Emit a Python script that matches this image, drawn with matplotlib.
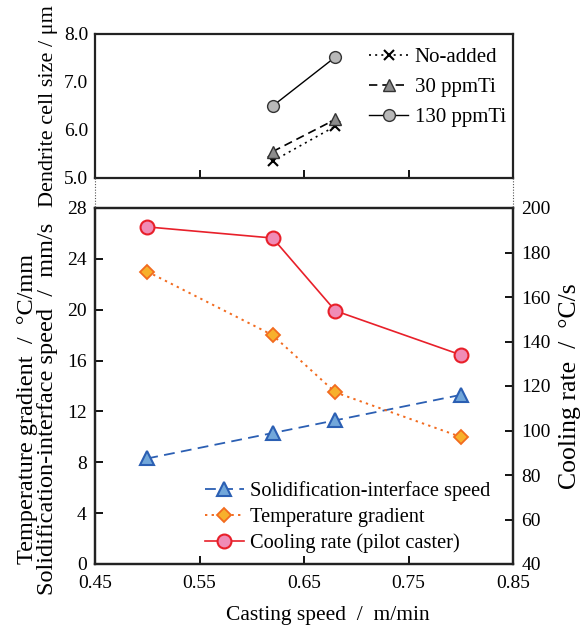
import matplotlib
matplotlib.use("Agg")
import matplotlib.pyplot as plt
from matplotlib.lines import Line2D

plt.rcParams['font.family'] = ['Liberation Serif', 'DejaVu Serif']

# ---- data: top panel (dendrite cell size) ----
top_speed = [0.62, 0.68]
no_added = [5.35, 6.08]
ti30 = [5.55, 6.22]
ti130 = [6.50, 7.52]

# ---- data: bottom panel ----
speed = [0.50, 0.62, 0.68, 0.80]
interface_speed = [8.3, 10.3, 11.3, 13.3]
temp_gradient = [23.0, 18.0, 13.5, 10.0]
cooling_rate = [191.5, 186.5, 153.8, 134.0]

x_ticks = [0.45, 0.55, 0.65, 0.75, 0.85]
x_ticklabels = ["0.45", "0.55", "0.65", "0.75", "0.85"]
top_yticks = [5.0, 6.0, 7.0, 8.0]
left_yticks = [0, 4, 8, 12, 16, 20, 24, 28]
right_yticks = [40, 60, 80, 100, 120, 140, 160, 180, 200]

TICK_FS = 14
LEG_FS = 14.7

fig = plt.figure(figsize=(5.87, 6.30), dpi=100)
W, H = 587, 630

def rect(l, t, r, b):
    return [l / W, 1 - b / H, (r - l) / W, (b - t) / H]

ax_top = fig.add_axes(rect(95, 34, 513, 178))
ax = fig.add_axes(rect(95, 208, 513, 564))
ax2 = ax.twinx()

for a in (ax_top, ax, ax2):
    for s in a.spines.values():
        s.set_linewidth(1.6)
        s.set_color('#222222')

# ---- top panel ----
grey = '#b8b8b8'
ax_top.plot(top_speed, no_added, color='black', ls=(0, (1.2, 2.5)), lw=1.2,
            marker='x', ms=7, mew=1.5, mec='black', label='No-added')
ax_top.plot(top_speed, ti30, color='black', ls=(0, (5, 3)), lw=1.2,
            marker='^', ms=8, mfc='#8c8c8c', mec='#333333', mew=1.0, label='30 ppmTi')
ax_top.plot(top_speed, ti130, color='black', ls='-', lw=1.0,
            marker='o', ms=8.5, mfc=grey, mec='#333333', mew=1.0, label='130 ppmTi')
ax_top.set_xlim(0.45, 0.85)
ax_top.set_ylim(5.0, 8.0)
ax_top.set_xticks(x_ticks)
ax_top.set_xticklabels([])
ax_top.set_yticks(top_yticks)
ax_top.set_yticklabels([f"{v:.1f}" for v in top_yticks], fontsize=TICK_FS)
ax_top.tick_params(axis='x', direction='in', length=6, width=1.3, bottom=True, top=False)
ax_top.tick_params(axis='y', direction='in', length=0, width=1.3, pad=5)
ax_top.set_ylabel('Dendrite cell size / μm', fontsize=16, labelpad=4)
ax_top.legend(loc='upper right', frameon=False, fontsize=15, handlelength=1.9,
              handletextpad=0.3, borderaxespad=0.25, labelspacing=0.5,
              bbox_to_anchor=(1.015, 1.0))

# ---- bottom panel ----
blue_line = '#2b5fb3'
blue_fill = '#72a7da'
orange_line = '#f26b1f'
orange_fill = '#f7b02c'
red_line = '#e8202a'
red_fill = '#f08cb6'

l1, = ax.plot(speed, interface_speed, color=blue_line, ls=(0, (6, 3.5)), lw=1.3,
              marker='^', ms=10, mfc=blue_fill, mec=blue_line, mew=1.5,
              label='Solidification-interface speed')
l2, = ax.plot(speed, temp_gradient, color=orange_line, ls=(0, (1.2, 2.2)), lw=1.4,
              marker='D', ms=7.5, mfc=orange_fill, mec=orange_line, mew=1.3,
              label='Temperature gradient')
l3, = ax2.plot(speed, cooling_rate, color=red_line, ls='-', lw=1.2,
               marker='o', ms=10, mfc=red_fill, mec=red_line, mew=1.5,
               label='Cooling rate (pilot caster)')

ax.set_xlim(0.45, 0.85)
ax.set_ylim(0, 28)
ax2.set_ylim(40, 200)
ax.set_xticks(x_ticks)
ax.set_xticklabels(x_ticklabels, fontsize=TICK_FS)
ax.set_yticks(left_yticks)
ax.set_yticklabels([str(v) for v in left_yticks], fontsize=TICK_FS)
ax2.set_yticks(right_yticks)
ax2.set_yticklabels([str(v) for v in right_yticks], fontsize=TICK_FS)
ax.tick_params(axis='x', direction='in', length=6, width=1.3, top=False, pad=8)
ax.tick_params(axis='y', direction='in', length=6, width=1.3, right=False, pad=6)
ax2.tick_params(axis='y', direction='in', length=6, width=1.3, pad=6)

ax.set_xlabel('Casting speed  /  m/min', fontsize=15.5)
ax.xaxis.set_label_coords(0.557, -0.118)
ax.set_ylabel('Temperature gradient  /  °C/mm\nSolidification-interface speed  /  mm/s',
              fontsize=17.5, linespacing=0.95)
ax.yaxis.set_label_coords(-0.088, 0.435)
ax2.set_ylabel('Cooling rate  /  °C/s', fontsize=18.5, labelpad=6)

ax.legend(handles=[l1, l2, l3], loc='lower right', frameon=False, fontsize=LEG_FS,
          handlelength=1.9, handletextpad=0.3, labelspacing=0.3,
          borderaxespad=0.15, bbox_to_anchor=(0.972, 0.0))

# dotted connectors between panels
for xp in (95, 513):
    fig.add_artist(Line2D([xp / W, xp / W], [1 - 178 / H, 1 - 208 / H],
                          transform=fig.transFigure, color='#555555',
                          ls=(0, (1, 1.5)), lw=0.8))

fig.savefig('out.png', dpi=100)
